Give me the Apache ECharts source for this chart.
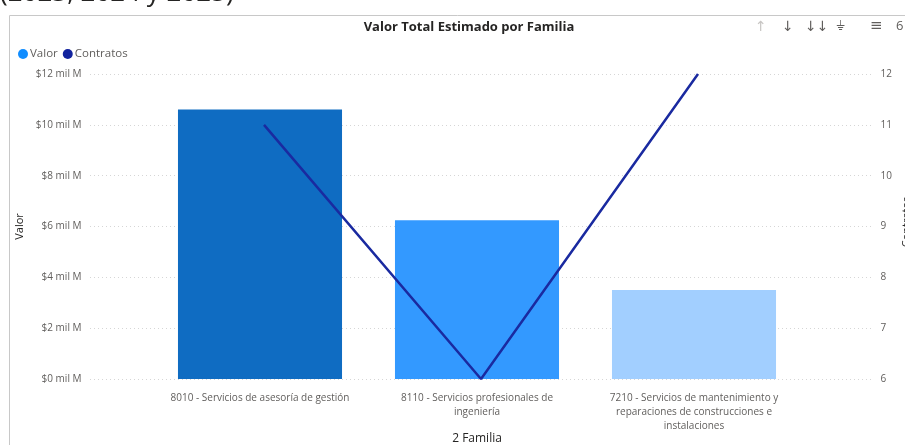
<!DOCTYPE html>
<html>
<head>
<meta charset="utf-8">
<script src="https://cdn.jsdelivr.net/npm/echarts@6/dist/echarts.min.js"></script>
<style>
  html, body { margin: 0; padding: 0; background: #fff; }
  #chart { width: 905px; height: 445px; }
</style>
</head>
<body>
<div id="chart"></div>
<script>
// datos
var familias = [
  '8010 - Servicios de asesoría de gestión',
  '8110 - Servicios profesionales de\ningeniería',
  '7210 - Servicios de mantenimiento y\nreparaciones de construcciones e\ninstalaciones'
]
var valor = [10.6, 6.25, 3.5]          // en "mil M"
var contratos = [11, 6, 12]
var coloresBarra = ['#0F6CC2', '#3399FF', '#A2CFFF']

var fuente = '"Open Sans", "Noto Sans", sans-serif'

var chart = echarts.init(document.getElementById('chart'))

var sinEje = { show: false }

var option = {
  animation: false,
  textStyle: { fontFamily: fuente },
  title: {
    text: 'Valor Total Estimado por Familia',
    left: 464, top: 16, textAlign: 'center',
    textStyle: { fontSize: 13, fontWeight: 'bold', color: '#252423', fontFamily: fuente }
  },
  legend: {
    left: 13, top: 43,
    icon: 'circle', itemWidth: 10, itemHeight: 10, itemGap: 5,
    textStyle: { fontSize: 11.5, color: '#605E5C', padding: [0, 0, 0, -3] },
    data: [
      { name: 'Valor', itemStyle: { color: '#118DFF' } },
      { name: 'Contratos', itemStyle: { color: '#12239E' } }
    ]
  },
  grid: [
    // grid de datos (barras)
    { left: 151.5, right: 102.5, top: 74, bottom: 66, outerBoundsMode: 'none', containLabel: false },
    // grid solo para las líneas punteadas
    { left: 90, right: 32, top: 74, bottom: 66, outerBoundsMode: 'none', containLabel: false },
    // grid de la línea (un poco corrida a la derecha como en Power BI)
    { left: 155.5, right: 98.5, top: 74, bottom: 66, outerBoundsMode: 'none', containLabel: false }
  ],
  xAxis: [{
    type: 'category',
    gridIndex: 0,
    data: familias,
    axisLine: { show: false },
    axisTick: { show: false },
    axisLabel: { interval: 0, margin: 12, fontSize: 10, lineHeight: 14, color: '#605E5C' }
  }, {
    type: 'value', gridIndex: 1, min: 0, max: 1, show: false
  }, {
    type: 'category', gridIndex: 2, data: familias, show: false
  }],
  yAxis: [{
    type: 'value',
    gridIndex: 0,
    min: 0, max: 12, interval: 2,
    name: 'Valor',
    nameLocation: 'middle',
    nameGap: 122,
    nameTextStyle: { fontSize: 11, color: '#252423' },
    splitLine: { show: false },
    axisLabel: {
      margin: 70, fontSize: 10, color: '#605E5C',
      formatter: function (v) { return '$' + v + ' mil M' }
    }
  }, {
    type: 'value',
    gridIndex: 0,
    position: 'right',
    min: 6, max: 12, interval: 1,
    splitLine: { show: false },
    axisLabel: { margin: 78, fontSize: 10, color: '#605E5C' }
  }, {
    type: 'value',
    gridIndex: 1,
    min: 0, max: 12, interval: 2,
    axisLabel: { show: false },
    axisLine: { show: false },
    axisTick: { show: false },
    splitLine: { lineStyle: { color: '#D6D6D6', type: [1, 3], width: 1 } }
  }, {
    type: 'value', gridIndex: 2, min: 6, max: 12, interval: 1,
    axisLabel: sinEje, axisLine: sinEje, axisTick: sinEje, splitLine: sinEje
  }],
  series: [{
    name: 'Valor',
    type: 'bar',
    xAxisIndex: 0, yAxisIndex: 0,
    barCategoryGap: '24.4%',
    data: valor.map(function (v, i) {
      return { value: v, itemStyle: { color: coloresBarra[i] } }
    })
  }, {
    name: 'Contratos',
    type: 'line',
    xAxisIndex: 2, yAxisIndex: 3,
    symbol: 'none',
    lineStyle: { color: '#1A2AA0', width: 2.5 },
    itemStyle: { color: '#12239E' },
    data: contratos
  }],
  graphic: [
    // texto de arriba (cortado)
    {
      type: 'text', left: 0, top: -19,
      style: { text: '(2023, 2024 y 2025)', font: '26px ' + fuente, fill: '#252423' }
    },
    // borde del panel
    {
      type: 'rect', shape: { x: 9.5, y: 15.5, width: 920, height: 460 },
      style: { fill: 'none', stroke: '#C8C8C8', lineWidth: 1 }
    },
    // títulos de ejes
    {
      type: 'text', x: 477, y: 439,
      style: { text: '2 Familia', font: '12px ' + fuente, fill: '#252423', align: 'center', verticalAlign: 'middle' }
    },
    {
      type: 'text', x: 901, y: 222, rotation: Math.PI / 2,
      style: { text: 'Contratos', font: '11px ' + fuente, fill: '#252423', align: 'center', verticalAlign: 'top' }
    },
    // iconos de la barra superior
    {
      type: 'text', left: 755, top: 20,
      style: { text: '↑', font: '14px "DejaVu Sans"', fill: '#C8C6C4' }
    },
    {
      type: 'text', left: 782, top: 20,
      style: { text: '↓', font: '14px "DejaVu Sans"', fill: '#605E5C' }
    },
    {
      type: 'text', left: 805, top: 20,
      style: { text: '↓↓', font: '14px "DejaVu Sans"', fill: '#605E5C' }
    },
    {
      type: 'text', left: 836, top: 20,
      style: { text: '⏚', font: '13px "DejaVu Sans"', fill: '#605E5C' }
    },
    {
      type: 'text', left: 870, top: 19,
      style: { text: '≡', font: '15px "DejaVu Sans"', fill: '#605E5C' }
    },
    {
      type: 'text', left: 896, top: 20,
      style: { text: '6', font: '13px ' + fuente, fill: '#605E5C' }
    }
  ]
}

chart.setOption(option)
</script>
</body>
</html>
